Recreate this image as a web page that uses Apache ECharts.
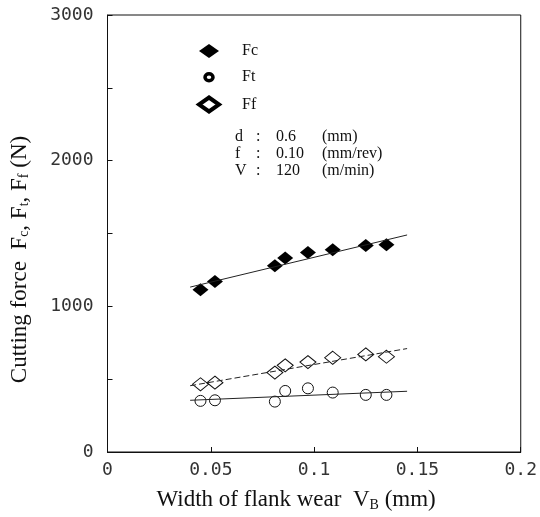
<!DOCTYPE html>
<html>
<head>
<meta charset="utf-8">
<script src="https://cdn.jsdelivr.net/npm/echarts@6/dist/echarts.min.js"></script>
<style>
  html, body { margin: 0; padding: 0; background: #fff; }
  #chart { width: 540px; height: 517px; }
</style>
</head>
<body>
<div id="chart"></div>
<script>
// flank wear width (mm), same for all three forces
const wear = [0.045, 0.052, 0.081, 0.086, 0.097, 0.109, 0.125, 0.135];

// measured forces (N)
const fc = [1114, 1171, 1278, 1331, 1369, 1388, 1417, 1422];
const ft = [351, 355, 346, 419, 437, 408, 392, 392];
const ff = [465, 476, 545, 595, 617, 647, 670, 654];

// fitted straight lines, end points
const fitX = [0.04, 0.145];
const fcFit = [1132, 1490];
const ftFit = [355, 417];
const ffFit = [455, 710];

// cutting conditions: symbol, value, unit
const condName = ['d', 'f', 'V'];
const condValue = ['0.6', '0.10', '120'];
const condUnit = ['(mm)', '(mm/rev)', '(m/min)'];

function pairs(xs, ys) {
    return xs.map((x, i) => [x, ys[i]]);
}

var chartDom = document.getElementById('chart');
var myChart = echarts.init(chartDom);

const serif = '"Liberation Serif", "DejaVu Serif", serif';
const mono = '"DejaVu Sans Mono", monospace';

// small ellipse for the Ft legend icon, padded out to the 20x14 icon box
const smallRing = 'path://M0 0M20 14M6 7A4 3.5 0 1 1 14 7A4 3.5 0 1 1 6 7Z';

// one text per column so the colons and units line up like the original
function condText(str, x, row) {
    return {
        type: 'text',
        left: x,
        top: 129 + row * 17,
        style: { text: str, font: '16px ' + serif, fill: '#111' }
    };
}
var condGraphics = [];
condName.forEach((n, i) => {
    condGraphics.push(condText(n, 235, i));
    condGraphics.push(condText(':', 256, i));
    condGraphics.push(condText(condValue[i], 276, i));
    condGraphics.push(condText(condUnit[i], 322, i));
});

var option = {
    animation: false,
    grid: {
        left: 106,
        right: 19,
        top: 15,
        bottom: 64,
        show: true,
        borderColor: '#111',
        borderWidth: 1
    },
    legend: {
        orient: 'vertical',
        left: 192,
        top: 38,
        itemWidth: 20,
        itemHeight: 14,
        itemGap: 9.5,
        textStyle: {
            fontFamily: serif,
            fontSize: 16,
            color: '#111',
            padding: [0, 0, 0, 18]
        },
        data: [
            { name: 'Fc', icon: 'diamond', itemStyle: { color: '#000', borderWidth: 0 } },
            { name: 'Ft', icon: smallRing, itemStyle: { color: '#fff', borderColor: '#000', borderWidth: 3.5 } },
            { name: 'Ff', icon: 'diamond', itemStyle: { color: '#fff', borderColor: '#000', borderWidth: 4 } }
        ]
    },
    graphic: condGraphics,
    xAxis: {
        type: 'value',
        min: 0,
        max: 0.2,
        interval: 0.05,
        name: 'Width of flank wear  V{s|B} (mm)',
        nameLocation: 'middle',
        nameGap: 36,
        nameTextStyle: {
            fontFamily: serif,
            fontSize: 23,
            color: '#111',
            padding: [0, 36, 0, 0],
            rich: {
                s: { fontFamily: serif, fontSize: 14, color: '#111', padding: [10, 0, 0, 0] }
            }
        },
        axisLine: { lineStyle: { color: '#111', width: 1 } },
        axisTick: { inside: true, length: 5, lineStyle: { color: '#111' } },
        splitLine: { show: false },
        axisLabel: {
            margin: 9,
            fontFamily: mono,
            fontSize: 18,
            color: '#333'
        }
    },
    yAxis: {
        type: 'value',
        min: 0,
        max: 3000,
        interval: 500,
        name: 'Cutting force  F{s|c}, F{s|t}, F{s|f} (N)',
        nameLocation: 'middle',
        nameGap: 76,
        nameTextStyle: {
            fontFamily: serif,
            fontSize: 23,
            color: '#111',
            padding: [0, 52, 0, 0],
            rich: {
                s: { fontFamily: serif, fontSize: 14, color: '#111', padding: [10, 0, 0, 0] }
            }
        },
        axisLine: { show: true, lineStyle: { color: '#111', width: 1 } },
        axisTick: { inside: true, length: 5, lineStyle: { color: '#111' } },
        splitLine: { show: false },
        axisLabel: {
            margin: 14,
            fontFamily: mono,
            fontSize: 18,
            color: '#333',
            formatter: v => (v % 1000 === 0 ? String(v) : '')
        }
    },
    series: [
        {
            name: 'Fc fit',
            type: 'line',
            data: pairs(fitX, fcFit),
            symbol: 'none',
            lineStyle: { color: '#222', width: 1 },
            silent: true
        },
        {
            name: 'Ft fit',
            type: 'line',
            data: pairs(fitX, ftFit),
            symbol: 'none',
            lineStyle: { color: '#222', width: 1 },
            silent: true
        },
        {
            name: 'Ff fit',
            type: 'line',
            data: pairs(fitX, ffFit),
            symbol: 'none',
            lineStyle: { color: '#222', width: 1, type: [6, 3] },
            silent: true
        },
        {
            name: 'Fc',
            type: 'scatter',
            data: pairs(wear, fc),
            symbol: 'diamond',
            symbolSize: [16, 13],
            itemStyle: { color: '#000', opacity: 1 }
        },
        {
            name: 'Ft',
            type: 'scatter',
            data: pairs(wear, ft),
            symbol: 'circle',
            symbolSize: 11,
            itemStyle: { color: 'rgba(255,255,255,0)', borderColor: '#111', borderWidth: 1, opacity: 1 }
        },
        {
            name: 'Ff',
            type: 'scatter',
            data: pairs(wear, ff),
            symbol: 'diamond',
            symbolSize: [16, 13],
            itemStyle: { color: 'rgba(255,255,255,0)', borderColor: '#111', borderWidth: 1, opacity: 1 }
        }
    ]
};

option && myChart.setOption(option);
</script>
</body>
</html>
